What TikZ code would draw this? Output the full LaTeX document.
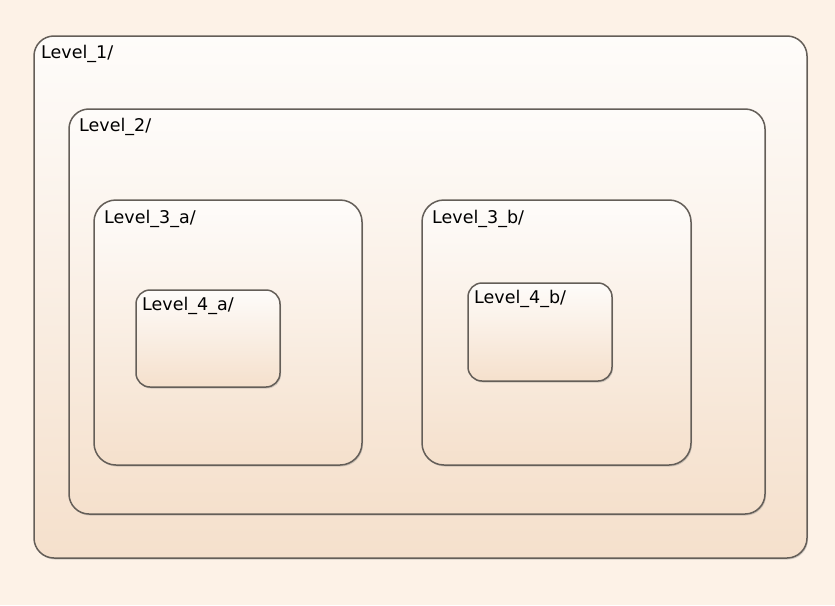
\documentclass[tikz,border=0pt]{standalone}
\usepackage{fontspec}
\setmainfont{DejaVu Sans}
\usetikzlibrary{positioning, calc, shadows}

\definecolor{pagebg}{RGB}{253,242,231}
\definecolor{boxtop}{RGB}{254,252,250}
\definecolor{boxbot}{RGB}{245,224,204}
\definecolor{boxline}{RGB}{100,94,88}

\begin{document}
\begin{tikzpicture}
    [
        x=1pt, y=-1pt,
        box/.style={draw=boxline, line width=1.5pt, rectangle, inner sep=0pt, outer sep=0pt,
            top color=boxtop, bottom color=boxbot,
            drop shadow={shadow xshift=1pt, shadow yshift=-1.5pt, opacity=0.35}},
        tag/.style={anchor=base west, inner sep=0pt, font=\fontsize{17.5}{19}\selectfont}
    ]
        % =========================================================================
        % BACKGROUND
        % =========================================================================
        \useasboundingbox [fill=pagebg] (0,0) rectangle (835,605);

        % =========================================================================
        % BOXES
        % =========================================================================
        % --- Level 1 ---
        \node [box, rounded corners=20pt, minimum width=773pt, minimum height=522pt] (lvl1) at (420.5,297) {};
        % --- Level 2 ---
        \node [box, rounded corners=20pt, minimum width=696pt, minimum height=405pt] (lvl2) at (417,311.5) {};
        % --- Level 3 ---
        \node [box, rounded corners=22pt, minimum width=268pt, minimum height=265pt] (lvl3a) at (228,332.5) {};
        \node [box, rounded corners=22pt, minimum width=269pt, minimum height=265pt] (lvl3b) at (556.5,332.5) {};
        % --- Level 4 ---
        \node [box, rounded corners=14pt, minimum width=144pt, minimum height=97pt] (lvl4a) at (208,338.5) {};
        \node [box, rounded corners=14pt, minimum width=144pt, minimum height=98pt] (lvl4b) at (540,332) {};

        % =========================================================================
        % LABELS
        % =========================================================================
        \node [tag] (lvl1text) at ($(lvl1.north west)+(7,22)$) {Level\_1/};
        \node [tag] (lvl2text) at ($(lvl2.north west)+(10,22)$) {Level\_2/};
        \node [tag] (lvl3atext) at ($(lvl3a.north west)+(10,23)$) {Level\_3\_a/};
        \node [tag] (lvl3btext) at ($(lvl3b.north west)+(10,23)$) {Level\_3\_b/};
        \node [tag] (lvl4atext) at ($(lvl4a.north west)+(6,20)$) {Level\_4\_a/};
        \node [tag] (lvl4btext) at ($(lvl4b.north west)+(6,20)$) {Level\_4\_b/};

    \end{tikzpicture}
\end{document}
